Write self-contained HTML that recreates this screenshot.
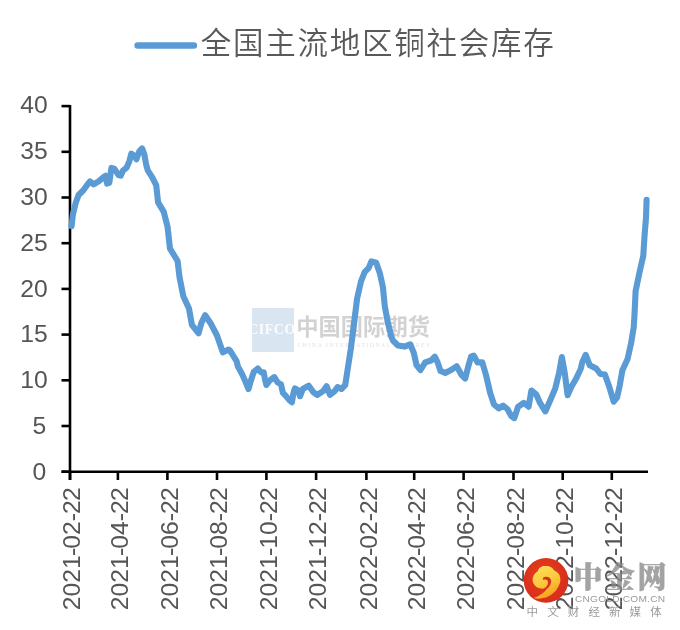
<!DOCTYPE html>
<html lang="zh-CN">
<head>
<meta charset="utf-8">
<title>全国主流地区铜社会库存</title>
<style>
html,body{margin:0;padding:0;background:#fff;}
body{width:680px;height:630px;overflow:hidden;position:relative;font-family:"Liberation Sans","Noto Sans CJK SC",sans-serif;}
svg{position:absolute;left:0;top:0;display:block;}
.ax line{stroke:#000;stroke-width:2.6;}
.lab text{font-family:"Liberation Sans","Noto Sans CJK SC",sans-serif;font-size:24px;fill:#555555;}
.title{font-family:"Liberation Sans","Noto Sans CJK SC",sans-serif;font-size:31px;font-weight:350;fill:#595959;}
</style>
</head>
<body>
<svg width="680" height="630" viewBox="0 0 680 630">
<rect width="680" height="630" fill="#ffffff"/>
<!-- legend -->
<line x1="137.6" x2="193.9" y1="45.5" y2="45.5" stroke="#5b9bd5" stroke-width="6.5" stroke-linecap="round"/>
<text class="title" transform="translate(200.8,53.7) scale(0.985,1)" letter-spacing="1.76">全国主流地区铜社会库存</text>
<!-- center watermark -->
<g opacity="1">
<rect x="252" y="308" width="42" height="44" fill="#d9e5f1"/>
<clipPath id="cb"><rect x="252" y="308" width="42" height="44"/></clipPath><text clip-path="url(#cb)" x="248.3" y="334.4" font-family="Liberation Serif,serif" font-weight="700" font-size="13.8" fill="#ffffff" fill-opacity="0.9" letter-spacing="0.6">CIFCO</text>
<text x="296.2" y="335" font-family="Liberation Sans,Noto Sans CJK SC,sans-serif" font-weight="700" font-size="22.3" fill="#d2d2d2">中国国际期货</text>
<text x="297.5" y="346.6" font-family="Liberation Serif,serif" font-size="5.8" fill="#e2e2e2" letter-spacing="1.5">CHINA INTERNATIONAL FUTURES</text>
</g>
<g class="lab">
<text transform="translate(46.2,479.8) scale(1.03,1)" text-anchor="end">0</text><text transform="translate(46.2,434.0) scale(1.03,1)" text-anchor="end">5</text><text transform="translate(47.8,388.1) scale(1.03,1)" text-anchor="end">10</text><text transform="translate(47.8,342.3) scale(1.03,1)" text-anchor="end">15</text><text transform="translate(47.8,296.5) scale(1.03,1)" text-anchor="end">20</text><text transform="translate(47.8,250.7) scale(1.03,1)" text-anchor="end">25</text><text transform="translate(47.8,204.8) scale(1.03,1)" text-anchor="end">30</text><text transform="translate(47.8,159.0) scale(1.03,1)" text-anchor="end">35</text><text transform="translate(47.8,113.2) scale(1.03,1)" text-anchor="end">40</text>
<text transform="translate(80.3,610.2) rotate(-90) scale(1.03,1)" dx="0 0 0 0 -0.9 -0.9 0 0 -0.9 -0.9">2021-02-22</text><text transform="translate(128.2,610.2) rotate(-90) scale(1.03,1)" dx="0 0 0 0 -0.9 -0.9 0 0 -0.9 -0.9">2021-04-22</text><text transform="translate(177.7,610.2) rotate(-90) scale(1.03,1)" dx="0 0 0 0 -0.9 -0.9 0 0 -0.9 -0.9">2021-06-22</text><text transform="translate(227.3,610.2) rotate(-90) scale(1.03,1)" dx="0 0 0 0 -0.9 -0.9 0 0 -0.9 -0.9">2021-08-22</text><text transform="translate(276.7,610.2) rotate(-90) scale(1.03,1)" dx="0 0 0 0 -0.9 -0.9 0 0 -0.9 -0.9">2021-10-22</text><text transform="translate(326.4,610.2) rotate(-90) scale(1.03,1)" dx="0 0 0 0 -0.9 -0.9 0 0 -0.9 -0.9">2021-12-22</text><text transform="translate(376.7,610.2) rotate(-90) scale(1.03,1)" dx="0 0 0 0 -0.9 -0.9 0 0 -0.9 -0.9">2022-02-22</text><text transform="translate(424.5,610.2) rotate(-90) scale(1.03,1)" dx="0 0 0 0 -0.9 -0.9 0 0 -0.9 -0.9">2022-04-22</text><text transform="translate(473.9,610.2) rotate(-90) scale(1.03,1)" dx="0 0 0 0 -0.9 -0.9 0 0 -0.9 -0.9">2022-06-22</text><text transform="translate(523.8,610.2) rotate(-90) scale(1.03,1)" dx="0 0 0 0 -0.9 -0.9 0 0 -0.9 -0.9">2022-08-22</text><text transform="translate(573.0,610.2) rotate(-90) scale(1.03,1)" dx="0 0 0 0 -0.9 -0.9 0 0 -0.9 -0.9">2022-10-22</text><text transform="translate(622.1,610.2) rotate(-90) scale(1.03,1)" dx="0 0 0 0 -0.9 -0.9 0 0 -0.9 -0.9">2022-12-22</text>
</g>
<!-- axes -->
<g class="ax">
<line x1="70" x2="70" y1="105" y2="480"/>
<line x1="61.5" x2="648" y1="471.7" y2="471.7"/>
<line x1="61.5" x2="70" y1="471.7" y2="471.7"/><line x1="61.5" x2="70" y1="426.0" y2="426.0"/><line x1="61.5" x2="70" y1="380.3" y2="380.3"/><line x1="61.5" x2="70" y1="334.6" y2="334.6"/><line x1="61.5" x2="70" y1="288.9" y2="288.9"/><line x1="61.5" x2="70" y1="243.2" y2="243.2"/><line x1="61.5" x2="70" y1="197.5" y2="197.5"/><line x1="61.5" x2="70" y1="151.8" y2="151.8"/><line x1="61.5" x2="70" y1="106.1" y2="106.1"/>
<line x1="70.0" x2="70.0" y1="471.7" y2="480"/><line x1="117.9" x2="117.9" y1="471.7" y2="480"/><line x1="167.4" x2="167.4" y1="471.7" y2="480"/><line x1="217.0" x2="217.0" y1="471.7" y2="480"/><line x1="266.4" x2="266.4" y1="471.7" y2="480"/><line x1="316.1" x2="316.1" y1="471.7" y2="480"/><line x1="366.4" x2="366.4" y1="471.7" y2="480"/><line x1="414.2" x2="414.2" y1="471.7" y2="480"/><line x1="463.6" x2="463.6" y1="471.7" y2="480"/><line x1="513.5" x2="513.5" y1="471.7" y2="480"/><line x1="562.7" x2="562.7" y1="471.7" y2="480"/><line x1="611.8" x2="611.8" y1="471.7" y2="480"/>
</g>
<!-- series -->
<path d="M71.6,226.2 L72.9,214.3 L75.7,202.9 L78.6,195.0 L83.6,190.0 L87.1,185.0 L90.0,181.4 L93.6,184.3 L98.6,181.4 L103.6,177.1 L105.7,175.7 L107.1,183.6 L109.3,182.9 L111.4,167.9 L114.3,168.6 L118.6,175.0 L120.7,175.7 L122.9,170.7 L126.4,167.9 L129.3,161.4 L131.4,153.6 L134.3,155.7 L136.4,159.3 L139.3,151.4 L142.1,148.4 L144.3,154.3 L146.4,165.7 L147.9,170.7 L152.1,177.1 L155.0,182.9 L156.2,185.2 L158.1,202.4 L163.8,211.9 L167.6,227.1 L170.0,248.6 L177.6,261.0 L179.5,277.1 L183.3,296.2 L189.0,308.6 L191.9,324.8 L198.6,333.3 L201.4,322.9 L205.2,315.2 L211.2,324.3 L217.0,335.5 L222.9,352.4 L228.6,349.5 L230.0,350.6 L233.3,355.9 L236.6,361.2 L237.9,366.5 L241.9,373.7 L245.2,381.0 L248.5,389.0 L251.2,379.7 L253.8,371.8 L257.8,368.5 L261.1,372.4 L263.7,372.4 L265.1,379.7 L266.4,385.0 L269.7,380.4 L274.3,377.1 L277.6,382.4 L281.0,384.3 L282.9,392.9 L285.6,395.6 L288.9,399.6 L291.9,402.2 L293.5,392.9 L294.9,388.3 L298.2,390.3 L300.1,396.2 L302.8,389.0 L308.7,385.7 L313.4,392.3 L317.3,394.9 L323.3,391.0 L326.6,386.2 L330.0,394.8 L334.8,391.0 L337.6,387.1 L341.4,389.0 L345.2,385.2 L347.1,372.9 L350.8,349.0 L354.5,319.5 L357.1,298.6 L361.0,281.4 L364.8,271.9 L368.6,268.1 L371.4,261.4 L376.2,262.8 L380.0,273.8 L382.9,287.1 L384.8,306.2 L387.6,321.4 L391.4,336.7 L392.9,340.5 L398.0,345.5 L404.5,346.6 L410.2,344.3 L413.8,352.9 L416.5,365.0 L420.5,370.0 L425.2,362.4 L431.0,360.5 L434.8,356.7 L437.6,362.4 L440.5,371.0 L445.2,372.9 L451.0,370.0 L456.7,366.2 L461.4,374.8 L465.2,378.6 L468.1,367.1 L471.0,356.7 L473.8,355.7 L477.6,362.4 L482.2,362.2 L486.0,375.0 L490.2,393.0 L494.0,404.5 L498.8,408.4 L503.1,405.5 L507.4,409.0 L511.4,416.2 L514.3,418.1 L518.1,406.7 L523.8,402.9 L528.6,406.7 L531.4,390.5 L536.2,394.3 L540.0,402.9 L545.3,411.4 L549.5,401.9 L555.2,388.6 L559.0,373.3 L561.9,357.1 L564.8,373.3 L567.6,395.2 L571.4,386.7 L576.2,378.5 L580.8,368.7 L582.2,362.4 L585.7,354.8 L589.8,365.3 L596.2,368.5 L600.4,374.0 L604.9,374.6 L609.3,386.8 L613.7,401.7 L617.1,397.3 L619.8,385.1 L622.4,370.2 L627.6,358.9 L631.1,343.2 L633.7,327.5 L634.5,315.0 L635.6,291.1 L639.3,273.3 L643.3,255.6 L644.4,237.8 L646.0,217.8 L646.6,199.8" fill="none" stroke="#5b9bd5" stroke-width="6.1" stroke-linejoin="round" stroke-linecap="round"/>
<!-- corner watermark -->
<defs>
<radialGradient id="rg" cx="0.45" cy="0.4" r="0.65"><stop offset="0" stop-color="#e5401d"/><stop offset="1" stop-color="#d62c1c"/></radialGradient>
<linearGradient id="cg" x1="0.2" y1="0" x2="0.6" y2="1"><stop offset="0" stop-color="#fde05a"/><stop offset="0.55" stop-color="#fbc63a"/><stop offset="1" stop-color="#f59c1c"/></linearGradient>
</defs>
<g>
<g opacity="0.78"><text x="573.6" y="587.8" font-family="Liberation Serif,Noto Serif CJK SC,serif" font-weight="900" font-size="29" fill="#8a8a8a" stroke="#8a8a8a" stroke-width="0.6" stroke-linejoin="round" letter-spacing="3">中金网</text></g>
<text transform="translate(575,602.2) scale(1.06,1)" font-family="Liberation Sans,sans-serif" font-size="9.6" fill="#8f8f8f" fill-opacity="0.9" letter-spacing="0.2">CNGOLD.COM.CN</text>
<text x="526.6" y="616.1" font-family="Liberation Sans,Noto Sans CJK SC,sans-serif" font-size="11.5" fill="#999999" letter-spacing="9.1">中文财经新媒体</text>
</g>
<circle cx="546" cy="580.4" r="22.3" fill="url(#rg)"/>
<g transform="translate(520,555) scale(0.08254)">
<path d="M163,522 C255,548 375,508 438,428 C478,368 497,318 487,272 C483,232 455,203 414,188 C398,152 345,124 303,134 C262,128 226,158 215,198 C176,218 149,268 154,310 C158,362 200,402 258,407 C286,409 308,404 326,396 C316,440 262,482 163,522 Z" fill="url(#cg)"/>
<path d="M283,440 C340,412 382,362 377,312 C372,272 332,254 295,268 C276,276 272,294 285,302 C304,292 334,298 339,326 C343,356 322,388 283,412 Z" fill="#d9321c"/>
</g>
</svg>
</body>
</html>
